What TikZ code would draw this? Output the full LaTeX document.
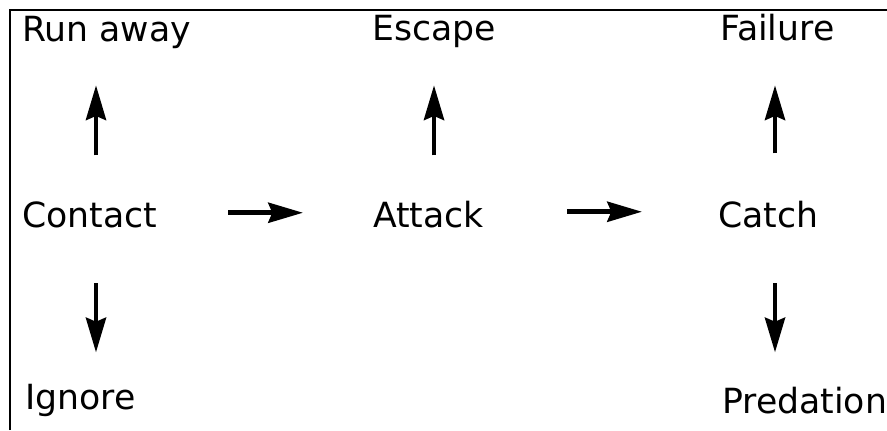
\documentclass[tikz,border=0pt]{standalone}
\usepackage{fontspec}
\setmainfont{DejaVu Sans}
\usetikzlibrary{arrows.meta, calc, positioning}

\begin{document}
\begin{tikzpicture}[x=0.75pt, y=-0.75pt,
    lbl/.style={font=\fontsize{26pt}{30pt}\selectfont, inner sep=0pt,
        text height=19pt, text depth=0pt, anchor=base west},
    arr/.style={-{Stealth[length=26pt, width=15pt, inset=3pt]}, line width=3.6pt}]
\useasboundingbox (0,0) rectangle (887,430);

% Frame (left and top only)
\draw[line width=2pt] (10,430) -- (10,10) -- (887,10);

% Top row
\node[lbl] (runaway) at (22,41) {Run away};
\node[lbl] (escape) at (372,40) {Escape};
\node[lbl] (failure) at (720,40) {Failure};

% Middle row
\node[lbl] (contact) at (22,227) {Contact};
\node[lbl] (attack) at (373,227) {Attack};
\node[lbl] (catch) at (718,227) {Catch};

% Bottom row
\node[lbl] (ignore) at (25,409) {Ignore};
\node[lbl] (predation) at (722,413) {Predation};

% Up arrows
\draw[arr] ([shift={(74,-46)}]contact.north west) -- ([shift={(74,44)}]runaway.south west);
\draw[arr] ([shift={(61,-46)}]attack.north west) -- ([shift={(62,45)}]escape.south west);
\draw[arr] ([shift={(57,-48)}]catch.north west) -- ([shift={(55,45)}]failure.south west);

% Down arrows
\draw[arr] ([shift={(74,56)}]contact.south west) -- ([shift={(71,-31)}]ignore.north west);
\draw[arr] ([shift={(57,56)}]catch.south west) -- ([shift={(53,-35)}]predation.north west);

% Across
\draw[arr] ([shift={(206,-1.6)}]contact.west) -- ([shift={(-70,-1.6)}]attack.west);
\draw[arr] ([shift={(194,-2.6)}]attack.west) -- ([shift={(-76,-2.6)}]catch.west);
\end{tikzpicture}
\end{document}
